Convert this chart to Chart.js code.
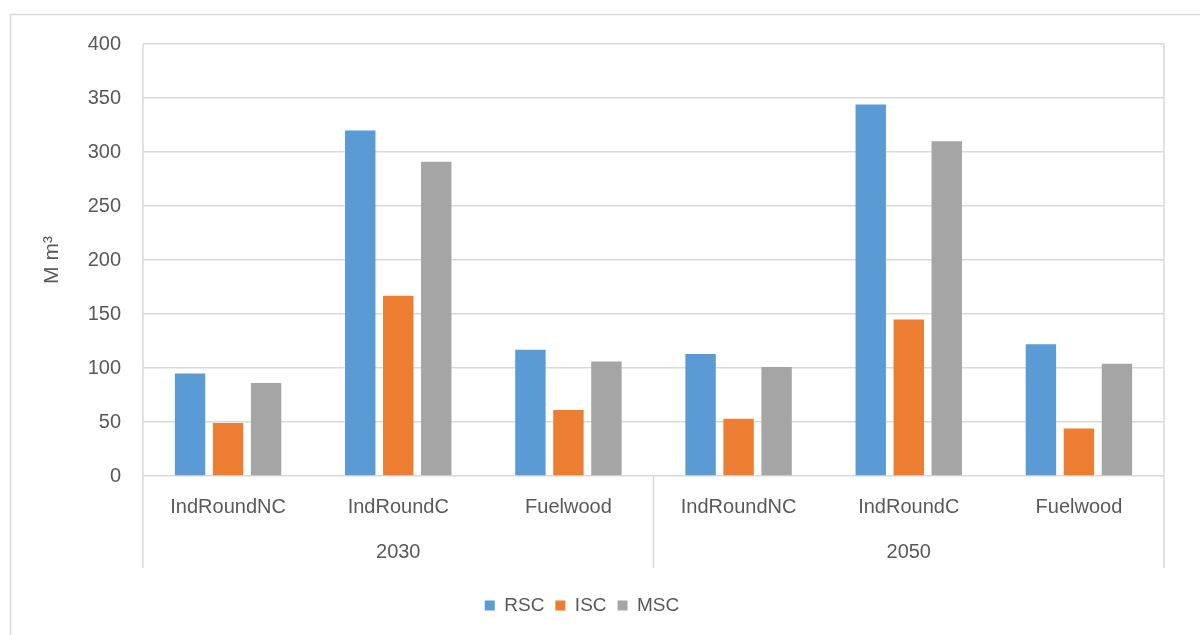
<!DOCTYPE html>
<html>
<head>
<meta charset="utf-8">
<script src="https://cdn.jsdelivr.net/npm/chart.js@4"></script>
<style>
  body { margin: 0; background: #fff; }
  #wrap { width: 1200px; height: 635px; }
</style>
</head>
<body>
<div id="wrap"><canvas id="chart" width="1200" height="635"></canvas></div>
<script>
const products = ["IndRoundNC", "IndRoundC", "Fuelwood", "IndRoundNC", "IndRoundC", "Fuelwood"];
const years = ["2030", "2050"];
const rsc = [95, 320, 117, 113, 344, 122];
const isc = [49, 167, 61, 53, 145, 44];
const msc = [86, 291, 106, 101, 310, 104];
const yTicks = [0, 50, 100, 150, 200, 250, 300, 350, 400];

const textColor = "#595959";
const lineColor = "#d9d9d9";
const fontFamily = "'Liberation Sans', Arial, sans-serif";
const groupRowDepth = 92; // separators run this far below the axis

// frame, group separators and the year row under the product labels
const groupAxis = {
  id: "groupAxis",
  beforeDraw(chart) {
    const ctx = chart.ctx;
    ctx.save();
    ctx.strokeStyle = lineColor;
    ctx.lineWidth = 1.5;
    ctx.strokeRect(10.5, 14.5, 1300, 700);
    ctx.restore();
  },
  afterDraw(chart) {
    const ctx = chart.ctx;
    const x = chart.scales.x;
    const area = chart.chartArea;
    const per = products.length / years.length;
    const bottom = area.bottom + groupRowDepth;
    ctx.save();
    ctx.strokeStyle = lineColor;
    ctx.lineWidth = 1.5;
    for (let g = 0; g <= years.length; g++) {
      const idx = g * per;
      let px;
      if (idx === 0) px = x.left;
      else if (idx >= products.length) px = x.right;
      else px = (x.getPixelForValue(idx - 1) + x.getPixelForValue(idx)) / 2;
      const top = (g === 0 || g === years.length) ? area.top : area.bottom;
      ctx.beginPath();
      ctx.moveTo(px, top);
      ctx.lineTo(px, bottom);
      ctx.stroke();
    }
    ctx.fillStyle = textColor;
    ctx.font = "20px " + fontFamily;
    ctx.textAlign = "center";
    ctx.textBaseline = "middle";
    years.forEach((yr, g) => {
      const a = x.getPixelForValue(g * per);
      const b = x.getPixelForValue(g * per + per - 1);
      ctx.fillText(yr, (a + b) / 2, bottom - 16);
    });
    ctx.restore();
  }
};

const ctx = document.getElementById("chart").getContext("2d");
new Chart(ctx, {
  type: "bar",
  data: {
    labels: products,
    datasets: [
      { label: "RSC", data: rsc, backgroundColor: "#5b9bd5" },
      { label: "ISC", data: isc, backgroundColor: "#ed7d31" },
      { label: "MSC", data: msc, backgroundColor: "#a5a5a5" }
    ]
  },
  options: {
    responsive: false,
    animation: false,
    layout: { padding: { left: 0, right: 36, top: 44, bottom: 10 } },
    datasets: { bar: { categoryPercentage: 0.67, barPercentage: 0.8, borderWidth: 0 } },
    plugins: {
      tooltip: { enabled: false },
      legend: {
        position: "bottom",
        labels: {
          color: textColor,
          font: { family: fontFamily, size: 19 },
          boxWidth: 10,
          boxHeight: 10,
          padding: 11
        }
      }
    },
    scales: {
      x: {
        grid: { display: false, drawTicks: false },
        border: { display: false },
        ticks: { color: textColor, font: { family: fontFamily, size: 20 }, padding: 19, maxRotation: 0, autoSkip: false },
        afterFit(scale) { scale.height = 109; }
      },
      y: {
        min: 0,
        max: 400,
        afterBuildTicks(scale) { scale.ticks = yTicks.map(v => ({ value: v })); },
        grid: { color: lineColor, lineWidth: 1.5, drawTicks: false },
        border: { display: false },
        ticks: { color: textColor, font: { family: fontFamily, size: 20 }, padding: 22 },
        title: {
          display: true,
          text: "M m³",
          color: textColor,
          font: { family: fontFamily, size: 21 },
          padding: { top: 40, bottom: 0 }
        },
        afterFit(scale) { scale.width = 143; }
      }
    }
  },
  plugins: [groupAxis]
});
</script>
</body>
</html>
